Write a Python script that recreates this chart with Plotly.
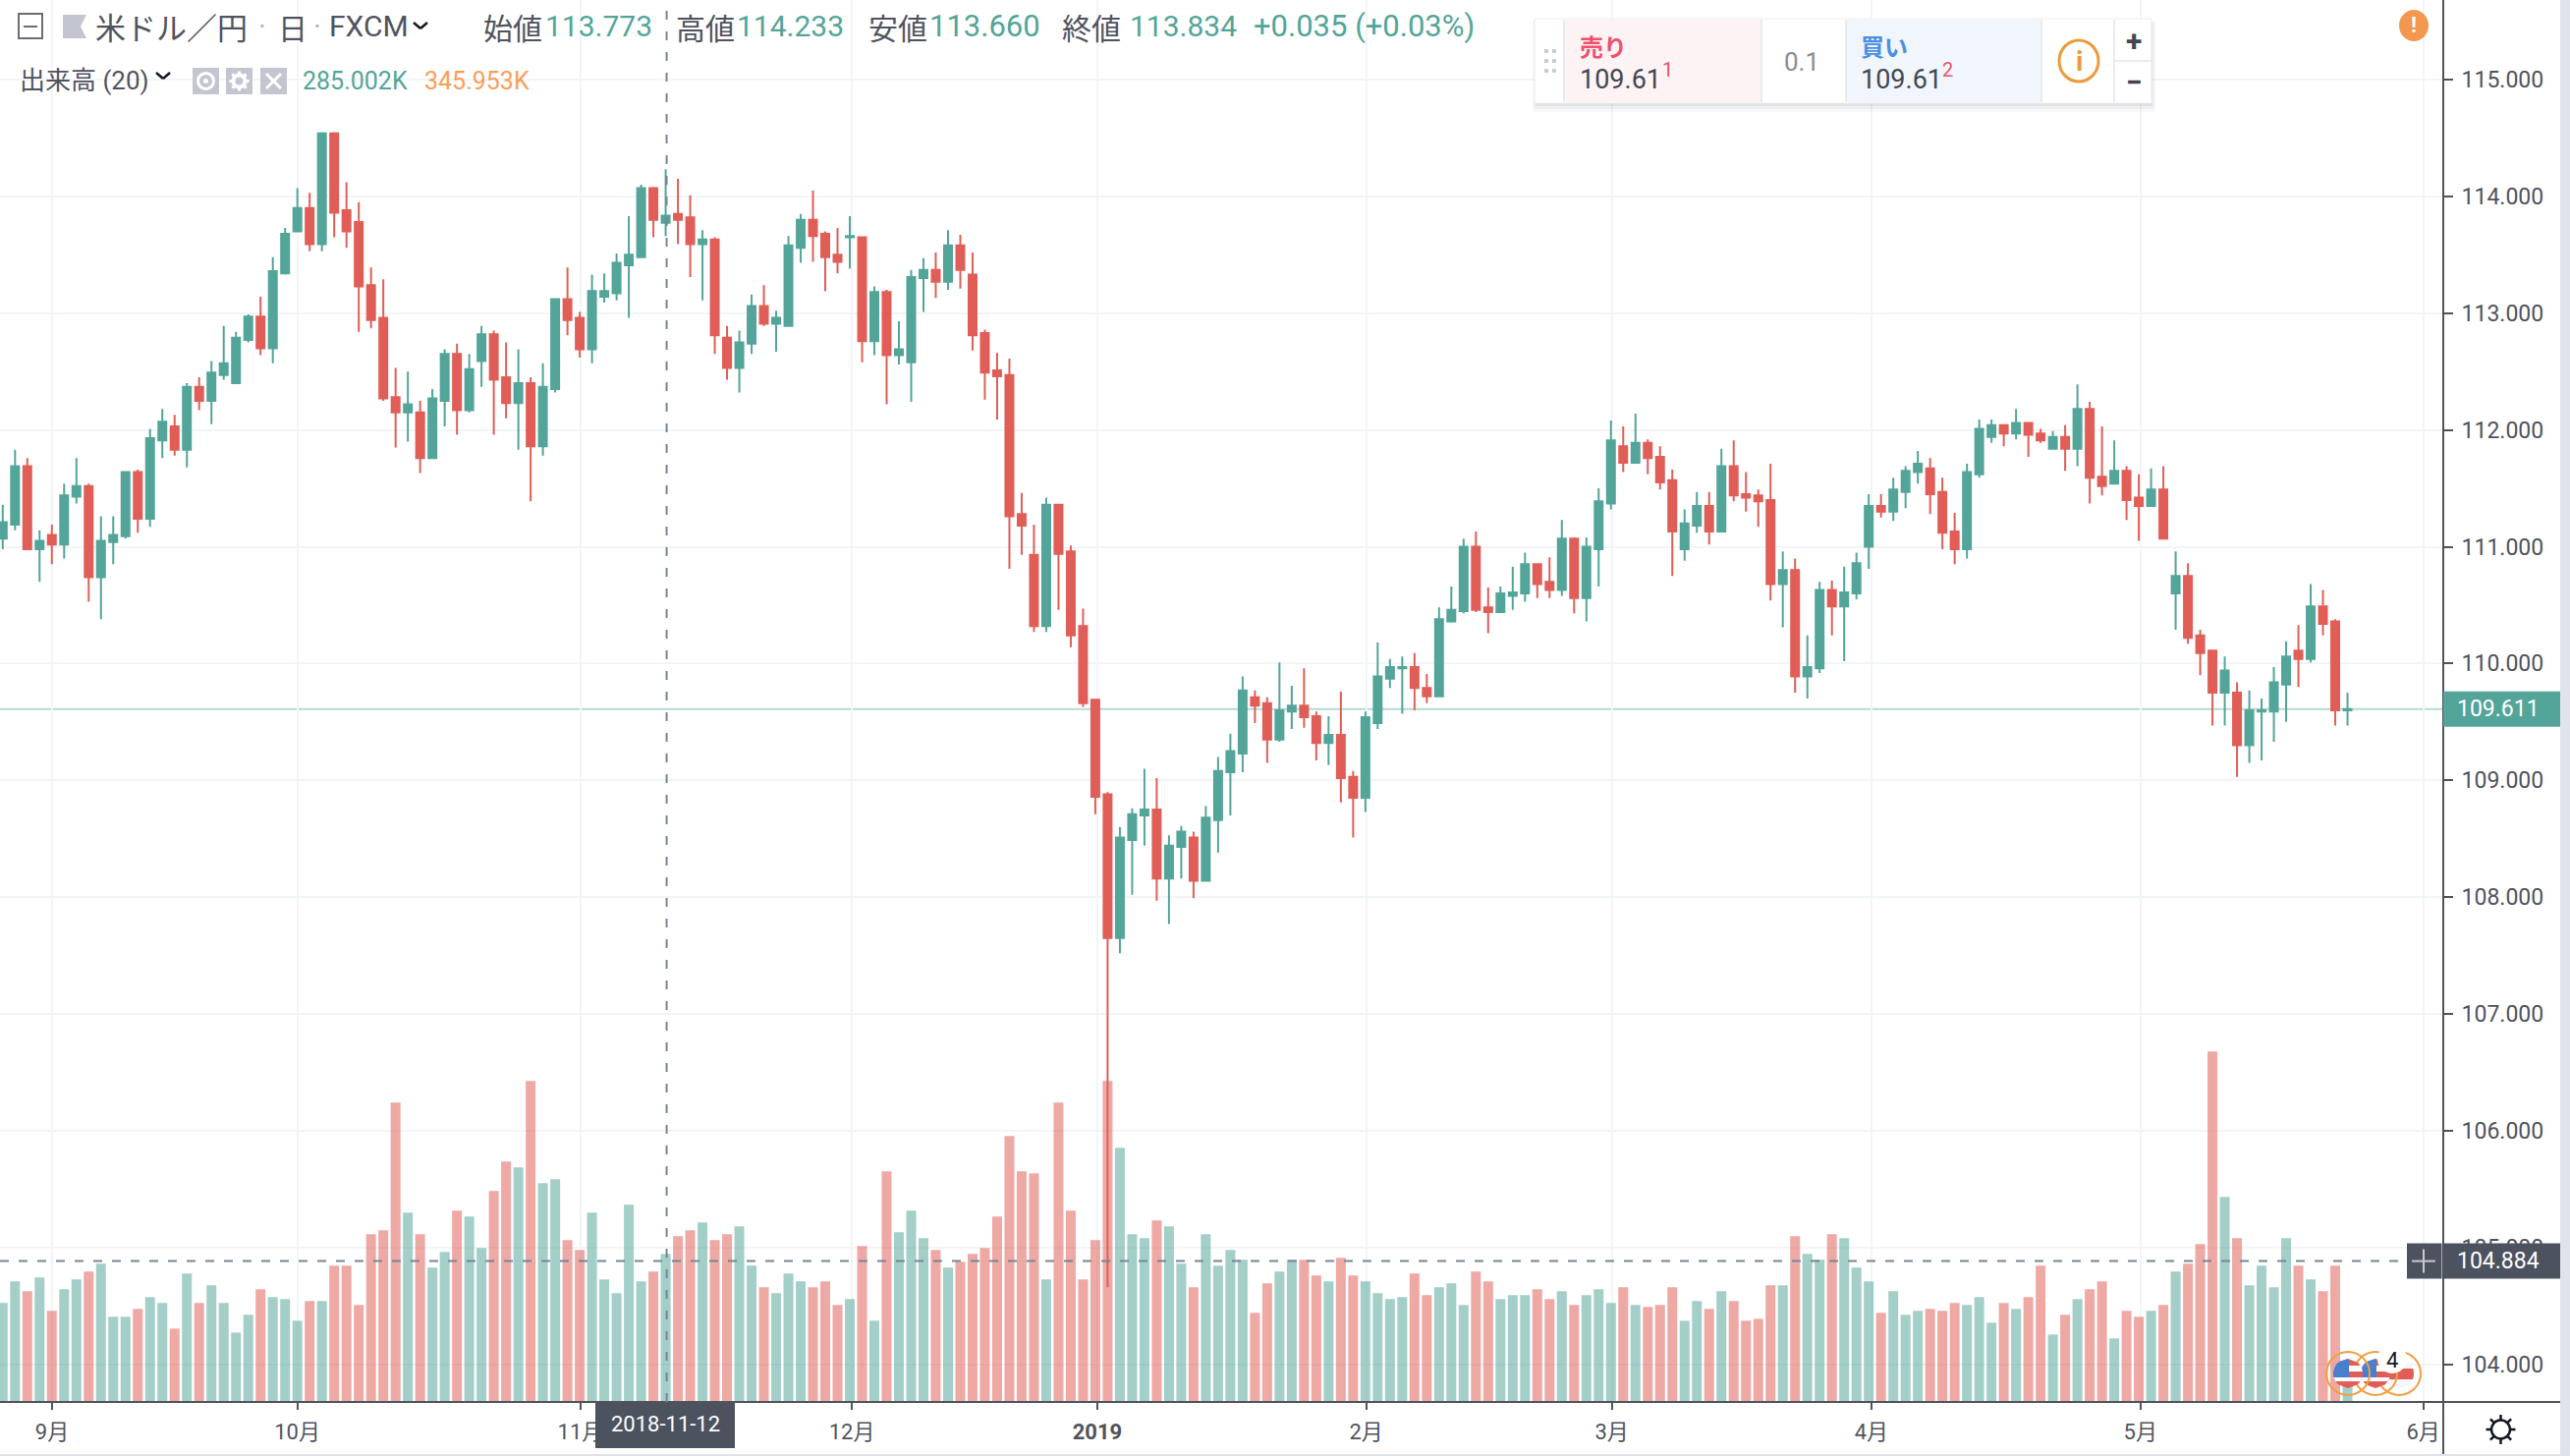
import math
import plotly.graph_objects as go

OPEN = [111.07,111.19,111.69,110.98,111.10,111.02,111.43,111.52,110.74,111.04,
111.09,111.64,111.24,111.91,112.03,111.83,112.37,112.25,112.47,112.40,
112.77,112.97,112.70,113.34,113.70,113.90,113.59,114.54,113.88,113.78,
113.24,112.96,112.28,112.15,112.15,111.76,112.25,112.65,112.17,112.59,
112.82,112.45,112.23,112.40,111.86,112.35,113.12,112.96,112.69,113.14,
113.17,113.41,113.48,114.07,113.773,113.85,113.82,113.59,113.63,112.79,
112.53,112.74,113.06,112.91,112.89,113.56,113.80,113.68,113.50,113.65,
113.65,112.76,113.18,112.64,112.58,113.30,113.37,113.27,113.58,113.33,
112.83,112.51,112.47,111.28,110.93,110.32,111.36,110.96,110.32,109.69,
108.88,107.65,108.49,108.70,108.75,108.16,108.43,108.51,108.14,108.66,
109.07,109.23,109.71,109.66,109.35,109.59,109.64,109.55,109.32,109.39,
109.03,108.85,109.49,109.87,109.96,109.97,109.79,109.72,110.36,110.45,
111.00,110.48,110.44,110.58,110.60,110.85,110.70,110.63,111.07,110.56,
110.98,111.37,111.86,111.72,111.89,111.77,111.57,110.98,111.18,111.35,
111.13,111.69,111.45,111.44,111.40,110.68,110.80,109.89,109.96,110.63,
110.49,110.60,111.00,111.35,111.30,111.47,111.64,111.67,111.47,111.13,
110.98,111.62,111.94,112.04,111.97,112.06,111.97,111.84,111.94,111.84,
112.18,111.60,111.54,111.65,111.42,111.35,111.49,110.60,110.75,110.24,
110.11,109.75,109.75,109.30,109.59,109.59,109.82,110.11,110.04,110.49,
110.36,109.60]

HIGH = [111.36,111.83,111.76,111.14,111.19,111.54,111.76,111.54,111.26,111.26,
111.64,111.66,112.01,112.18,112.13,112.40,112.45,112.59,112.89,112.84,
112.99,113.14,113.48,113.73,114.07,114.03,114.55,114.55,114.12,113.95,
113.39,113.29,112.53,112.50,112.25,112.35,112.69,112.74,112.65,112.89,
112.85,112.75,112.69,112.45,112.57,113.12,113.39,113.01,113.33,113.34,
113.51,113.83,114.10,114.08,114.233,114.15,114.01,113.71,113.65,112.89,
112.85,113.16,113.24,113.02,113.66,113.85,114.05,113.70,113.73,113.83,
113.65,113.23,113.20,112.93,113.37,113.47,113.52,113.71,113.67,113.52,
112.86,112.66,112.61,111.46,111.19,111.42,111.36,111.01,110.47,109.69,
108.90,108.60,108.76,109.10,109.02,108.53,108.61,108.56,108.78,109.20,
109.40,109.89,109.77,109.71,110.01,109.81,109.96,109.59,109.55,109.76,
109.08,109.59,110.18,110.04,110.06,110.09,109.91,110.48,110.66,111.07,
111.13,110.65,110.66,110.83,110.95,110.86,110.91,111.23,111.08,111.08,
111.50,112.08,112.03,112.14,111.92,111.86,111.66,111.32,111.47,111.47,
111.84,111.91,111.64,111.49,111.71,110.96,110.90,110.24,110.70,110.71,
110.83,110.95,111.45,111.45,111.59,111.69,111.82,111.76,111.59,111.29,
111.71,112.09,112.09,112.04,112.18,112.06,112.01,111.99,112.04,112.39,
112.24,112.03,111.91,111.69,111.62,111.67,111.69,110.96,110.86,110.29,
110.12,110.06,109.84,109.77,109.70,109.97,110.19,110.33,110.68,110.63,
110.38,109.75]

LOW = [110.98,111.14,110.98,110.70,110.85,110.90,111.37,110.53,110.38,110.85,
111.07,111.12,111.17,111.76,111.78,111.68,112.17,112.05,112.43,112.40,
112.75,112.64,112.57,113.33,113.70,113.53,113.53,113.65,113.56,112.84,
112.87,112.25,111.85,111.90,111.63,111.75,112.03,111.96,112.15,112.37,
111.96,112.10,111.83,111.39,111.78,112.32,112.81,112.62,112.57,113.09,
113.11,112.96,113.48,113.65,113.660,113.59,113.31,113.11,112.65,112.43,
112.32,112.65,112.89,112.67,112.89,113.43,113.44,113.19,113.34,113.38,
112.58,112.64,112.22,112.56,112.24,113.01,113.13,113.20,113.21,112.68,
112.26,112.09,110.81,110.93,110.27,110.27,110.46,110.14,109.63,108.71,
104.66,107.52,108.02,108.44,107.97,107.77,108.16,107.99,108.14,108.38,
108.70,109.07,109.49,109.15,109.33,109.44,109.45,109.17,109.13,108.81,
108.51,108.73,109.44,109.79,109.57,109.60,109.66,109.72,110.35,110.43,
110.44,110.26,110.44,110.46,110.53,110.56,110.56,110.58,110.43,110.36,
110.66,111.32,111.64,111.71,111.62,111.49,110.75,110.88,111.12,111.02,
111.13,111.39,111.30,111.17,110.54,110.31,109.75,109.70,109.92,110.24,
110.02,110.55,110.81,111.25,111.22,111.33,111.54,111.28,110.98,110.85,
110.90,111.59,111.89,111.86,111.92,111.77,111.89,111.84,111.65,111.69,
111.37,111.44,111.54,111.23,111.05,111.35,111.07,110.29,110.17,109.90,
109.47,109.47,109.03,109.15,109.17,109.33,109.50,109.80,110.01,110.24,
109.47,109.47]

CLOSE = [111.21,111.69,110.98,111.05,111.02,111.44,111.52,110.74,111.05,111.10,
111.64,111.24,111.93,112.07,111.83,112.37,112.25,112.49,112.57,112.79,
112.97,112.70,113.36,113.68,113.90,113.59,114.54,113.86,113.70,113.23,
112.94,112.27,112.15,112.22,111.76,112.27,112.65,112.17,112.52,112.82,
112.43,112.23,112.40,111.86,112.37,113.12,112.94,112.69,113.19,113.19,
113.43,113.50,114.07,113.80,113.834,113.80,113.59,113.63,112.81,112.53,
112.75,113.06,112.91,112.96,113.58,113.80,113.66,113.48,113.44,113.66,
112.76,113.18,112.64,112.69,113.31,113.37,113.27,113.58,113.37,112.81,
112.49,112.46,111.26,111.18,110.32,111.36,110.94,110.24,109.66,108.86,
107.65,108.51,108.71,108.75,108.16,108.44,108.56,108.14,108.68,109.08,
109.25,109.77,109.64,109.35,109.60,109.64,109.54,109.32,109.39,109.02,
108.85,109.54,109.89,109.97,109.97,109.79,109.72,110.38,110.46,111.00,
110.46,110.44,110.60,110.61,110.85,110.68,110.63,111.07,110.56,111.00,
111.39,111.91,111.72,111.89,111.76,111.55,111.13,111.20,111.35,111.13,
111.69,111.44,111.42,111.39,110.68,110.80,109.89,109.97,110.63,110.49,
110.61,110.86,111.35,111.30,111.49,111.65,111.71,111.45,111.12,110.98,
111.64,112.01,112.04,111.97,112.06,111.96,111.91,111.94,111.84,112.18,
111.59,111.52,111.65,111.40,111.35,111.49,111.07,110.75,110.22,110.09,
109.75,109.94,109.30,109.60,109.60,109.84,110.06,110.04,110.49,110.34,
109.60,109.61]

VOLUME_K = [190.4,232.0,213.1,239.6,175.3,216.9,235.8,250.9,266.1,163.9,
163.9,179.1,201.8,190.4,141.2,247.2,190.4,224.5,190.4,133.7,
167.7,216.9,201.8,198.0,156.4,194.2,194.2,262.3,262.3,186.6,
322.8,330.4,576.3,364.4,322.8,258.5,288.8,368.2,356.9,296.3,
406.0,462.8,451.4,617.9,421.2,428.7,311.5,292.6,364.4,235.8,
209.3,379.6,232.0,250.9,285.0,319.0,330.4,345.5,311.5,322.8,
338.0,262.3,220.7,209.3,247.2,232.0,220.7,232.0,186.6,198.0,
300.1,156.4,443.9,326.6,368.2,315.3,292.6,258.5,269.9,285.0,
296.3,356.9,512.0,443.9,440.1,235.8,576.3,368.2,235.8,311.5,
617.9,489.3,322.8,315.3,349.3,338.0,266.1,220.7,322.8,262.3,
292.6,273.6,171.5,228.2,250.9,273.6,273.6,243.4,232.0,277.4,
243.4,232.0,209.3,198.0,201.8,247.2,205.5,220.7,228.2,186.6,
250.9,232.0,198.0,205.5,205.5,216.9,198.0,213.1,186.6,205.5,
216.9,190.4,220.7,186.6,182.8,186.6,220.7,156.4,194.2,179.1,
213.1,194.2,156.4,160.1,224.5,224.5,319.0,285.0,273.6,322.8,
315.3,258.5,232.0,171.5,213.1,167.7,175.3,179.1,175.3,190.4,
186.6,201.8,152.6,190.4,179.1,201.8,262.3,129.9,167.7,198.0,
216.9,232.0,122.3,175.3,163.9,175.3,186.6,250.9,266.1,303.9,
674.6,394.7,315.3,224.5,262.3,220.7,315.3,262.3,235.8,213.1,
262.3,70.0]

BAR_INDEX = list(range(len(CLOSE)))
MONTH_LABELS = ["9月", "10月", "11月", "12月", "<b>2019</b>", "2月", "3月", "4月", "5月", "6月"]
MONTH_POS = [4.02, 23.99, 47.07, 69.16, 89.16, 111.06, 131.07, 152.22, 174.13, 197.17]
PRICE_TICKS = [104, 105, 106, 107, 108, 109, 110, 111, 112, 113, 114, 115]
LAST_PRICE = 109.611
LINE_PRICE = 104.884
CROSS_INDEX = 54

TEAL = "#53A599"
RED = "#E05E57"
GRID = "#F2F5F8"
AXIS = "#50535E"
TAG = "#4C525E"
EDGE = "#E0E3EB"
FONT = "Roboto, 'Noto Sans CJK JP', sans-serif"
JP = "'Noto Sans CJK JP', sans-serif"

W, H = 2616, 1482
PW, PH = 2487, 1427


def fx(px):
    return px / PW


def fy(py):
    return 1 - py / PH


shapes = []
ann = []


def rect(x0, y0, x1, y1, fill, line=None, lw=0, layer="above"):
    shapes.append(dict(type="rect", xref="paper", yref="paper", x0=fx(x0), x1=fx(x1), y0=fy(y0), y1=fy(y1),
                       fillcolor=fill, line=dict(color=line or fill, width=lw), layer=layer))


def seg(x0, y0, x1, y1, color, lw=2, dash=None):
    shapes.append(dict(type="line", xref="paper", yref="paper", x0=fx(x0), x1=fx(x1), y0=fy(y0), y1=fy(y1),
                       line=dict(color=color, width=lw, dash=dash), layer="above"))


def circ(cx, cy, rx, ry, fill, line=None, lw=0):
    shapes.append(dict(type="circle", xref="paper", yref="paper", x0=fx(cx - rx), x1=fx(cx + rx), y0=fy(cy - ry),
                       y1=fy(cy + ry), fillcolor=fill, line=dict(color=line or fill, width=lw), layer="above"))


def poly(pts, fill):
    d = "M " + " L ".join(f"{fx(x)} {fy(y)}" for x, y in pts) + " Z"
    shapes.append(dict(type="path", xref="paper", yref="paper", path=d, fillcolor=fill,
                       line=dict(color=fill, width=0), layer="above"))


def chord(cx, cy, r, y0, y1, fill, x_max=None):
    ys = [y0 + (y1 - y0) * k / 8 for k in range(9)]
    half = [math.sqrt(max(r * r - (y - cy) ** 2, 0)) for y in ys]
    left = [(cx - h, y) for h, y in zip(half, ys)]
    right = [(min(cx + h, x_max) if x_max is not None else cx + h, y) for h, y in zip(half, ys)]
    poly(left + right[::-1], fill)


def chevron(cx, cy, color="#131722"):
    seg(cx - 7, cy - 3, cx, cy + 3, color, 2.5)
    seg(cx, cy + 3, cx + 7, cy - 3, color, 2.5)


def text(x, y, s, color=AXIS, size=30, anchor="left", family=FONT):
    ann.append(dict(xref="paper", yref="paper", x=fx(x), y=fy(y), text=s, showarrow=False, xanchor=anchor,
                    yanchor="middle", font=dict(color=color, size=size, family=family), borderpad=0, borderwidth=0))


# header row 1
shapes.append(dict(type="rect", xref="paper", yref="paper", x0=fx(19), x1=fx(43), y0=fy(14), y1=fy(39),
                   fillcolor="white", line=dict(color="#6A6D78", width=2), layer="above"))
seg(24, 27, 38, 27, "#6A6D78", 2)
poly([(64, 15), (88, 15), (82, 27), (88, 39), (64, 39)], "#C3C6D0")
text(97, 27, "米ドル／円", AXIS, 31, family=JP)
text(267, 27, "·", "#B2B5BE", 30, "center")
text(283, 27, "日", AXIS, 30, family=JP)
text(323, 27, "·", "#B2B5BE", 30, "center")
text(335, 27, "FXCM", AXIS, 30)
chevron(428, 26)
for label, lx, val, vx in [("始値", 492, "113.773", 555), ("高値", 688, "114.233", 750),
                           ("安値", 884, "113.660", 946), ("終値", 1081, "113.834", 1150)]:
    text(lx, 27, label, AXIS, 30, family=JP)
    text(vx, 27, val, TEAL, 31 if val == "113.660" else 30)
text(1276, 27, "+0.035 (+0.03%)", TEAL, 31)

# header row 2
text(20, 82, "出来高 (20)", AXIS, 26)
chevron(166, 77)
for bx in (196, 230, 265):
    rect(bx, 69, bx + 27, 96, "#C3C6D0")
circ(209.5, 82.5, 8, 8, "#C3C6D0", "white", 3)
circ(209.5, 82.5, 2.5, 2.5, "white")
circ(243.5, 82.5, 6, 6, "#C3C6D0", "white", 4)
for k in range(8):
    a = k * math.pi / 4
    seg(243.5 + 6 * math.cos(a), 82.5 + 6 * math.sin(a), 243.5 + 10 * math.cos(a), 82.5 + 10 * math.sin(a), "white", 3)
seg(271, 75, 286, 90, "white", 3)
seg(286, 75, 271, 90, "white", 3)
text(308, 82, "285.002K", TEAL, 25)
text(432, 82, "345.953K", "#F89E5A", 25)

# order widget
for off, col in ((9, "rgba(60,70,90,0.04)"), (6, "rgba(60,70,90,0.05)"), (3, "rgba(60,70,90,0.07)")):
    rect(1564 - off // 2, 22, 2190 + off // 2, 105 + off, col)
rect(1562, 19, 2190, 105, "white", "#E9ECF0", 1)
rect(1592, 20, 1793, 104, "#FDF3F4")
rect(1879, 20, 2078, 104, "#F1F6FD")
for sx in (1592, 1793, 1879, 2078, 2152):
    seg(sx, 20, sx, 104, "#E8EBF0", 2)
seg(2152, 62, 2190, 62, "#E8EBF0", 2)
for dy in (52, 62, 72):
    rect(1572, dy - 2, 1576, dy + 2, "#C9CCD3")
    rect(1580, dy - 2, 1584, dy + 2, "#C9CCD3")
text(1608, 46, "<b>売り</b>", "#F0506E", 24, family=JP)
text(1608, 81, "109.61", "#434651", 27)
text(1692, 71, "1", "#F0506E", 20)
text(1834, 63, "0.1", "#8A8D96", 26, "center")
text(1894, 46, "<b>買い</b>", "#4A90E2", 24, family=JP)
text(1894, 81, "109.61", "#434651", 27)
text(1977, 71, "2", "#F0506E", 20)
circ(2116, 62, 20, 21, "white", "#EE9A3A", 3)
text(2116, 62, "<b>i</b>", "#EE9A3A", 28, "center")
text(2172, 42, "<b>+</b>", "#434651", 30, "center")
text(2172, 83, "<b>−</b>", "#434651", 30, "center")
circ(2457, 26, 15, 16, "#F4984F")
text(2457, 26, "<b>!</b>", "white", 22, "center")

# axis frame
seg(2487, 0, 2487, 1482, AXIS, 2)
seg(0, 1427, 2606, 1427, AXIS, 2)
rect(2606, 0, 2616, 1482, EDGE)
rect(0, 1480, 2616, 1482, EDGE)

# last price tag
last_py = 81 + (115 - LAST_PRICE) * 118.88
rect(2487, last_py - 18, 2606, last_py + 18, TEAL)
text(2501, last_py, f"{LAST_PRICE:.3f}", "white", 23)

# horizontal line tag
line_py = 81 + (115 - LINE_PRICE) * 118.88
rect(2450, line_py - 18, 2485.5, line_py + 18, TAG)
rect(2488, line_py - 18, 2606, line_py + 18, TAG)
seg(2467, line_py - 12, 2467, line_py + 12, "#C8CAD0", 2)
seg(2455, line_py, 2479, line_py, "#C8CAD0", 2)
text(2501, line_py, f"{LINE_PRICE:.3f}", "white", 23)

# crosshair date tag
rect(606, 1428, 748, 1474, TAG)
text(677, 1450, "2018-11-12", "white", 22, "center")

# settings icon
circ(2545.5, 1455, 9.5, 9.5, "white", "#131722", 2.5)
for k in range(8):
    a = k * math.pi / 4
    seg(2545.5 + 10 * math.cos(a), 1455 + 10 * math.sin(a), 2545.5 + 15 * math.cos(a), 1455 + 15 * math.sin(a), "#131722", 2.5)

# event flags
chord(2442, 1398, 15, 1383, 1413, "#F4F6FA")
chord(2442, 1398, 15, 1393, 1404, RED)
circ(2442, 1398, 22, 22, "rgba(0,0,0,0)", "#F0A040", 2)
for cx in (2418, 2390):
    chord(cx, 1398, 15, 1383, 1413, RED)
    chord(cx, 1398, 15, 1390, 1396, "white")
    chord(cx, 1398, 15, 1402, 1406, "white")
    chord(cx, 1398, 15, 1383, 1402, "#4A7FD0", x_max=cx + 1)
    circ(cx, 1398, 22, 22, "rgba(0,0,0,0)", "#F0A040", 2)
circ(2435, 1383, 15, 15, "white")
text(2435, 1384, "4", "#131722", 22, "center")

shapes.append(dict(type="line", xref="paper", yref="y2", x0=0, x1=1, y0=LAST_PRICE, y1=LAST_PRICE,
                   line=dict(color="#B3DAD4", width=2), layer="below"))
shapes.append(dict(type="line", xref="paper", yref="y2", x0=0, x1=fx(2450), y0=LINE_PRICE, y1=LINE_PRICE,
                   line=dict(color="#758696", width=2, dash="9px,10px"), layer="above"))
shapes.append(dict(type="line", xref="x", yref="paper", x0=CROSS_INDEX + 0.08, x1=CROSS_INDEX + 0.08, y0=0, y1=1,
                   line=dict(color="#758696", width=2, dash="9px,12px"), layer="above"))

bar_colors = [TEAL if c >= o else RED for o, c in zip(OPEN, CLOSE)]

fig = go.Figure()
fig.add_trace(go.Bar(x=BAR_INDEX, y=VOLUME_K, marker=dict(color=bar_colors, line=dict(width=0)), opacity=0.53,
                     width=0.8, hoverinfo="skip", yaxis="y", xaxis="x"))
fig.add_trace(go.Candlestick(x=BAR_INDEX, open=OPEN, high=HIGH, low=LOW, close=CLOSE, yaxis="y2", xaxis="x",
                             increasing=dict(line=dict(color=TEAL, width=2), fillcolor=TEAL),
                             decreasing=dict(line=dict(color=RED, width=2), fillcolor=RED),
                             whiskerwidth=0, hoverinfo="skip"))

fig.update_layout(
    width=W, height=H, margin=dict(l=0, r=W - PW, t=0, b=H - PH), paper_bgcolor="white", plot_bgcolor="white",
    showlegend=False, boxgap=0.36, boxgroupgap=0, bargap=0.2, hovermode=False,
    font=dict(family=FONT, size=22, color=AXIS),
    xaxis=dict(range=[-0.224, 198.8], rangeslider=dict(visible=False), tickmode="array", tickvals=MONTH_POS,
               ticktext=MONTH_LABELS, showgrid=True, gridcolor=GRID, gridwidth=2, ticks="outside", ticklen=7,
               tickwidth=2, tickcolor=AXIS, showline=False, zeroline=False, tickfont=dict(size=22, color=AXIS),
               ticklabelstandoff=4, layer="below traces"),
    yaxis=dict(range=[0, 2699], visible=False, showgrid=False, zeroline=False, fixedrange=True),
    yaxis2=dict(range=[103.678, 115.681], overlaying="y", side="right", tickmode="array", tickvals=PRICE_TICKS,
                ticktext=[f"{v:.3f}" for v in PRICE_TICKS], showgrid=True, gridcolor=GRID, gridwidth=2,
                ticks="outside", ticklen=9, tickwidth=2, tickcolor=AXIS, showline=False, zeroline=False,
                tickfont=dict(size=23, color=AXIS), ticklabelstandoff=4),
    shapes=shapes, annotations=ann,
)

fig.write_html("out.html", config=dict(displayModeBar=False, staticPlot=True),
               post_script="document.body.style.margin='0';document.body.style.overflow='hidden';")
